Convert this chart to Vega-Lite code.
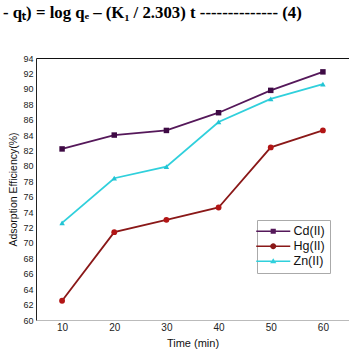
{
  "$schema": "https://vega.github.io/schema/vega-lite/v6.json",
  "width": 313,
  "height": 262,
  "autosize": {"type": "none"},
  "padding": {"left": 36, "top": 58, "right": 0, "bottom": 35},
  "background": "white",
  "title": {
    "text": "- qₜ) = log qₑ – (K₁ / 2.303) t -------------- (4)",
    "anchor": "start",
    "frame": "group",
    "dx": -33,
    "offset": 32,
    "font": "Liberation Serif",
    "fontSize": 16.8,
    "fontWeight": "bold",
    "color": "#000"
  },
  "config": {
    "view": {"stroke": null},
    "axis": {"labelFont": "Liberation Sans", "titleFont": "Liberation Sans"}
  },
  "data": {
    "values": [
      {"series": "Cd(II)", "time": 10, "eff": 82.2},
      {"series": "Cd(II)", "time": 20, "eff": 84.0},
      {"series": "Cd(II)", "time": 30, "eff": 84.6},
      {"series": "Cd(II)", "time": 40, "eff": 86.9},
      {"series": "Cd(II)", "time": 50, "eff": 89.8},
      {"series": "Cd(II)", "time": 60, "eff": 92.2},
      {"series": "Hg(II)", "time": 10, "eff": 62.5},
      {"series": "Hg(II)", "time": 20, "eff": 71.4},
      {"series": "Hg(II)", "time": 30, "eff": 73.0},
      {"series": "Hg(II)", "time": 40, "eff": 74.6},
      {"series": "Hg(II)", "time": 50, "eff": 82.4},
      {"series": "Hg(II)", "time": 60, "eff": 84.6},
      {"series": "Zn(II)", "time": 10, "eff": 72.6},
      {"series": "Zn(II)", "time": 20, "eff": 78.4},
      {"series": "Zn(II)", "time": 30, "eff": 79.9},
      {"series": "Zn(II)", "time": 40, "eff": 85.7},
      {"series": "Zn(II)", "time": 50, "eff": 88.7},
      {"series": "Zn(II)", "time": 60, "eff": 90.6}
    ]
  },
  "encoding": {
    "x": {
      "field": "time",
      "type": "quantitative",
      "scale": {"domain": [5, 65], "nice": false},
      "axis": {
        "values": [10, 20, 30, 40, 50, 60],
        "ticks": false,
        "grid": false,
        "domainColor": "#bbbbbb",
        "labelFontSize": 10,
        "labelColor": "#222",
        "labelPadding": 2,
        "title": "Time (min)",
        "titleFontSize": 11,
        "titleFontWeight": "normal",
        "titleColor": "#111",
        "titlePadding": 5
      }
    },
    "y": {
      "field": "eff",
      "type": "quantitative",
      "scale": {"domain": [60, 94], "nice": false, "zero": false},
      "axis": {
        "values": [60, 62, 64, 66, 68, 70, 72, 74, 76, 78, 80, 82, 84, 86, 88, 90, 92, 94],
        "ticks": false,
        "domainColor": "#222",
        "labelFontSize": 9,
        "labelColor": "#222",
        "labelPadding": 3,
        "grid": true,
        "gridColor": "#111",
        "gridOpacity": {"condition": {"test": "datum.value === 94", "value": 1}, "value": 0},
        "title": "Adsorption Efficiency(%)",
        "titleFontSize": 10.5,
        "titleFontWeight": "normal",
        "titleColor": "#111",
        "titlePadding": 4
      }
    }
  },
  "layer": [
    {
      "mark": {"type": "line", "strokeWidth": 1.8},
      "encoding": {
        "color": {
          "field": "series",
          "type": "nominal",
          "scale": {"domain": ["Cd(II)", "Hg(II)", "Zn(II)"], "range": ["#55185a", "#8a1818", "#30d0dc"]},
          "legend": {
            "title": null,
            "orient": "none",
            "legendX": 221,
            "legendY": 162,
            "strokeColor": "#aaa",
            "padding": 5,
            "labelFont": "Liberation Sans",
            "labelFontSize": 12.5,
            "labelColor": "#111",
            "symbolSize": 144,
            "labelOffset": 19,
            "rowPadding": 2,
            "encode": {
              "symbols": {
                "update": {
                  "shape": {"signal": "datum.value === 'Cd(II)' ? 'M-2,-0.13H3.67V0.13H-2Z M0.4,-0.42H1.26V0.42H0.4Z' : datum.value === 'Hg(II)' ? 'M-2,-0.13H0.4V0.13H-2Z M1.26,-0.13H3.67V0.13H1.26Z M0.33,0 A0.5,0.5 0 1,1 1.33,0 A0.5,0.5 0 1,1 0.33,0Z' : 'M-2,-0.13H3.67V0.13H-2Z M0.83,-0.5L1.35,0.35H0.31Z'"},
                  "fill": {"scale": "color", "field": "value"},
                  "stroke": {"value": "transparent"},
                  "strokeWidth": {"value": 0}
                }
              }
            }
          }
        }
      }
    },
    {
      "transform": [{"filter": "datum.series === 'Cd(II)'"}],
      "mark": {"type": "point", "shape": "square", "filled": true, "opacity": 1, "size": 30, "color": "#3e0a44"}
    },
    {
      "transform": [{"filter": "datum.series === 'Hg(II)'"}],
      "mark": {"type": "point", "shape": "circle", "filled": true, "opacity": 1, "size": 34, "color": "#b21515"}
    },
    {
      "transform": [{"filter": "datum.series === 'Zn(II)'"}],
      "mark": {"type": "point", "shape": "triangle-up", "filled": true, "opacity": 1, "size": 30, "color": "#22c4d4"}
    }
  ]
}
